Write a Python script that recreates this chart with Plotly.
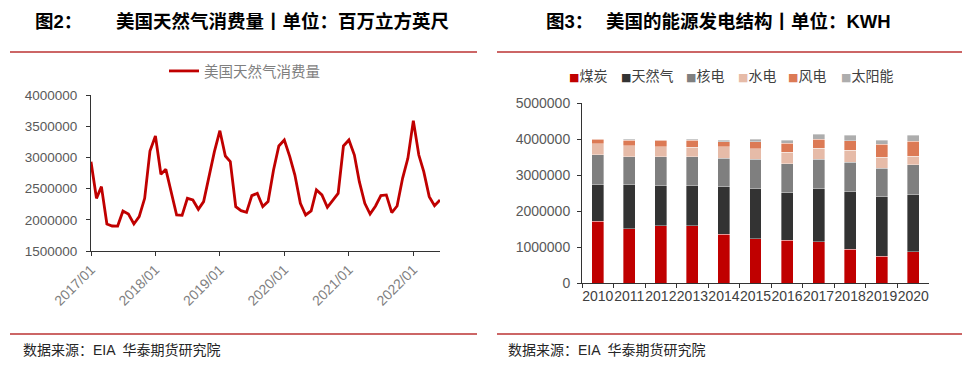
import plotly.graph_objects as go

# ---------------- data ----------------
start_year, start_month = 2017, 1
gas_consumption = [
    2932000, 2344000, 2531000, 1933000, 1901000, 1900000, 2141000, 2093000, 1933000, 2050000, 2344000, 3103000,
    3343000, 2729000, 2809000, 2424000, 2077000, 2071000, 2344000, 2317000, 2168000, 2291000, 2718000, 3092000,
    3428000, 3022000, 2932000, 2211000, 2147000, 2120000, 2387000, 2424000, 2211000, 2291000, 2798000, 3183000,
    3279000, 3012000, 2718000, 2264000, 2077000, 2141000, 2478000, 2398000, 2200000, 2317000, 2424000, 3183000,
    3279000, 3038000, 2611000, 2264000, 2093000, 2221000, 2387000, 2398000, 2115000, 2221000, 2665000, 2985000,
    3589000, 3038000, 2771000, 2371000, 2227000, 2317000,
]
dates = []
for i in range(len(gas_consumption)):
    y = start_year + (start_month - 1 + i) // 12
    m = (start_month - 1 + i) % 12 + 1
    dates.append(f"{y}-{m:02d}-01")

years = ["2010", "2011", "2012", "2013", "2014", "2015", "2016", "2017", "2018", "2019", "2020"]
coal    = [1713000, 1509000, 1593000, 1593000, 1352000, 1231000, 1185000, 1148000, 944000, 741000, 870000]
gas     = [1037000, 1241000, 1120000, 1120000, 1324000, 1399000, 1324000, 1482000, 1602000, 1657000, 1602000]
nuclear = [806000, 759000, 796000, 796000, 796000, 805000, 797000, 805000, 815000, 796000, 806000]
hydro   = [314000, 306000, 269000, 260000, 306000, 296000, 333000, 306000, 324000, 297000, 241000]
wind    = [120000, 157000, 185000, 194000, 148000, 195000, 250000, 259000, 269000, 361000, 416000]
solar   = [20000, 18000, 17000, 37000, 46000, 74000, 74000, 130000, 148000, 120000, 167000]

series_names = ["煤炭", "天然气", "核电", "水电", "风电", "太阳能"]
series_vals = [coal, gas, nuclear, hydro, wind, solar]
series_colors = ["#C00000", "#333333", "#7F7F7F", "#E6BBA8", "#DC7A55", "#ADADAD"]

# page body has an 8px margin; size the figure so that it fills the 970x372 window
OFF = 8
W, H = 970 - 2 * OFF, 372 - 2 * OFF
def px(x):
    return (x - OFF) / W
def py(y):
    return 1 - (y - OFF) / H

CJK = "Noto Sans CJK SC"
NUM = "Liberation Sans, Noto Sans CJK SC"

fig = go.Figure()

fig.add_trace(go.Scatter(
    x=dates, y=gas_consumption, mode="lines", name="美国天然气消费量",
    line=dict(color="#C00000", width=2.8), xaxis="x", yaxis="y", showlegend=True,
))

for name, vals, col in zip(series_names, series_vals, series_colors):
    fig.add_trace(go.Bar(
        x=years, y=vals, name=name, marker=dict(color=col, line=dict(width=0.6, color="rgba(255,255,255,0.6)")),
        xaxis="x2", yaxis="y2", showlegend=False,
    ))

axis_col = "#333333"
fig.update_layout(
    width=W, height=H, margin=dict(l=0, r=0, t=0, b=0, autoexpand=False),
    paper_bgcolor="white", plot_bgcolor="white",
    barmode="stack", bargap=0.62,
    font=dict(family=NUM, color="#404040"),
    xaxis=dict(
        domain=[px(91), px(440)], type="date",
        range=["2017-01-01", "2022-06-01"],
        tickformat="%Y/%m", dtick="M12", tick0="2017-01-01",
        tickangle=-45, tickfont=dict(size=14, color="#7F7F7F", family=NUM),
        showline=True, linecolor=axis_col, linewidth=1,
        ticks="outside", ticklen=4, tickcolor=axis_col, automargin=False,
        showgrid=False, zeroline=False, anchor="y",
    ),
    yaxis=dict(
        domain=[py(251), py(95)], range=[1500000, 4000000],
        tickvals=[1500000, 2000000, 2500000, 3000000, 3500000, 4000000],
        ticktext=["1500000", "2000000", "2500000", "3000000", "3500000", "4000000"],
        tickfont=dict(size=13.5, color="#595959", family=NUM),
        showline=True, linecolor=axis_col, linewidth=1, automargin=False,
        ticks="outside", ticklen=4, tickcolor=axis_col, ticklabelstandoff=6,
        showgrid=False, zeroline=False, anchor="x",
    ),
    xaxis2=dict(
        domain=[px(582), px(929)], type="category", tickangle=0,
        tickfont=dict(size=14, color="#404040", family=NUM),
        showline=True, linecolor=axis_col, linewidth=1, automargin=False,
        ticks="outside", ticklen=4, tickcolor=axis_col, tickson="boundaries",
        showgrid=False, zeroline=False, anchor="y2",
    ),
    yaxis2=dict(
        domain=[py(283), py(103)], range=[0, 5000000],
        tickvals=[0, 1000000, 2000000, 3000000, 4000000, 5000000],
        ticktext=["0", "1000000", "2000000", "3000000", "4000000", "5000000"],
        tickfont=dict(size=14, color="#595959", family=NUM),
        showline=True, linecolor=axis_col, linewidth=1, automargin=False,
        ticks="outside", ticklen=4, tickcolor=axis_col, ticklabelstandoff=4,
        showgrid=False, zeroline=False, anchor="x2",
    ),
    legend=dict(
        orientation="h", x=px(164), xanchor="left", y=py(71), yanchor="middle",
        font=dict(size=14.5, color="#7F7F7F", family=CJK), bgcolor="rgba(0,0,0,0)",
        itemwidth=30,
    ),
)

# Titles
title_font = dict(family=NUM, size=18.5, color="#000000")
fig.add_annotation(x=px(33), y=py(22), xref="paper", yref="paper", xanchor="left", yanchor="middle",
                   text="<b>图2：</b>", showarrow=False, font=title_font)
fig.add_annotation(x=px(114), y=py(22), xref="paper", yref="paper", xanchor="left", yanchor="middle",
                   text="<b>美国天然气消费量丨单位：百万立方英尺</b>", showarrow=False, font=title_font)
fig.add_annotation(x=px(544), y=py(22), xref="paper", yref="paper", xanchor="left", yanchor="middle",
                   text="<b>图3：</b>", showarrow=False, font=title_font)
fig.add_annotation(x=px(604), y=py(22), xref="paper", yref="paper", xanchor="left", yanchor="middle",
                   text="<b>美国的能源发电结构丨单位：KWH</b>", showarrow=False, font=title_font)

# Footers
foot_font = dict(family=NUM, size=14, color="#262626")
fig.add_annotation(x=px(21), y=py(350), xref="paper", yref="paper", xanchor="left", yanchor="middle",
                   text="数据来源：EIA  华泰期货研究院", showarrow=False, font=foot_font)
fig.add_annotation(x=px(506), y=py(350), xref="paper", yref="paper", xanchor="left", yanchor="middle",
                   text="数据来源：EIA  华泰期货研究院", showarrow=False, font=foot_font)

# Right legend (manual)
leg_x = [567, 619, 684, 736, 786, 839]
for name, col, lx in zip(series_names, series_colors, leg_x):
    fig.add_annotation(x=px(lx), y=py(75), xref="paper", yref="paper", xanchor="left", yanchor="middle",
                       text=f"<span style='color:{col};font-family:DejaVu Sans;font-size:11px'>■</span>{name}",
                       showarrow=False, font=dict(family=CJK, size=14, color="#404040"))

# separator lines
line_col = "#CC6666"
for x0, x1 in [(10, 477), (497, 962)]:
    for yy in (52, 334):
        fig.add_shape(type="line", xref="paper", yref="paper", x0=px(x0), x1=px(x1), y0=py(yy), y1=py(yy),
                      line=dict(color=line_col, width=2))

fig.write_html("out.html")
